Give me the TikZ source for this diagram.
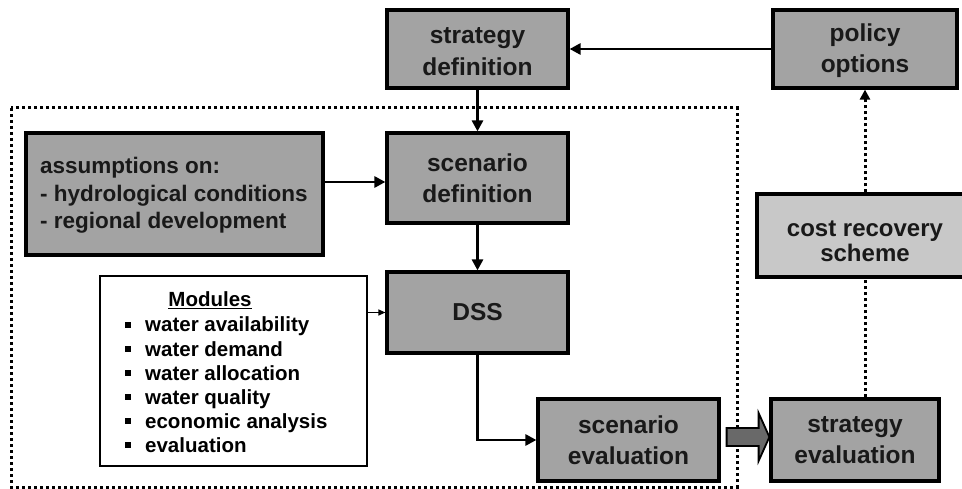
\documentclass[tikz,border=0pt]{standalone}
\usepackage{fontspec}
\setmainfont{Liberation Sans}
\usetikzlibrary{arrows.meta,calc}
\definecolor{boxgray}{RGB}{163,163,163}
\definecolor{lightbox}{RGB}{200,200,200}
\definecolor{arrowgray}{RGB}{105,105,105}
\definecolor{txt}{RGB}{25,25,25}
\begin{document}
\begin{tikzpicture}[x=1pt,y=-1pt,
  box/.style={draw=black, line width=3.2pt, fill=boxgray, text=txt,
    font=\bfseries\fontsize{24.5}{31.5}\selectfont, align=center, inner sep=0pt},
  conn/.style={line width=2.8pt, -{Triangle[length=11pt,width=11pt]}},
  dotconn/.style={line width=3pt, dash pattern=on 3pt off 3pt},
  modtext/.style={anchor=base west, text=black, font=\bfseries\fontsize{20.5}{24}\selectfont, inner sep=0pt},
  bulletsq/.style={fill=black, inner sep=0pt, minimum size=6pt}
]
\useasboundingbox (0,0) rectangle (962,489);
\begin{scope}
\clip (0,0) rectangle (962,489);
% dotted frame
\draw[dotconn] (11,108) rectangle (737,487);

% nodes
\node[box, minimum width=181, minimum height=78] (sd) at (477.5,49) {\rule{0pt}{21pt}strategy\\definition};
\node[box, minimum width=184, minimum height=78] (po) at (865,49) {\rule{0pt}{21pt}policy\\options};
\node[box, minimum width=181, minimum height=90] (sc) at (477.5,178) {scenario\\definition};
\node[box, minimum width=297, minimum height=122] (as) at (174.5,194) {};
\node[anchor=north west, align=left, text=txt, inner sep=0pt,
      font=\bfseries\fontsize{22.5}{27.5}\selectfont] (ast) at (40,157)
      {assumptions on:\\- hydrological conditions\\- regional development};
\node[box, minimum width=181, minimum height=81] (dss) at (477.5,312.5) {DSS};
\node[draw=black, line width=1.6pt, fill=white, minimum width=267, minimum height=190, inner sep=0pt] (mod) at (233.5,371) {};
\node[box, minimum width=181, minimum height=82] (se) at (628.5,440) {scenario\\evaluation};
\node[box, minimum width=168, minimum height=82] (ste) at (855,440) {strategy\\evaluation};
\node[box, fill=lightbox, minimum width=216, minimum height=83,
      font=\bfseries\fontsize{24}{25.5}\selectfont] (cr) at (865,235.5) {\rule{0pt}{27.5pt}cost recovery\\scheme};

% modules content
\node[anchor=base, text=black, font=\bfseries\fontsize{20.5}{24}\selectfont, inner sep=0pt] (mh) at (210,307) {\underline{Modules}};
\node[bulletsq] (b1) at (128,325) {};
\node[modtext] (m1) at (145,332) {water availability};
\node[bulletsq] (b2) at (128,349) {};
\node[modtext] (m2) at (145,356) {water demand};
\node[bulletsq] (b3) at (128,373) {};
\node[modtext] (m3) at (145,380) {water allocation};
\node[bulletsq] (b4) at (128,397) {};
\node[modtext] (m4) at (145,404) {water quality};
\node[bulletsq] (b5) at (128,421) {};
\node[modtext] (m5) at (145,428) {economic analysis};
\node[bulletsq] (b6) at (128,445) {};
\node[modtext] (m6) at (145,452) {evaluation};

% connectors
\draw[conn] (po.west) -- (sd.east);
\draw[conn] (sd.south) -- (sc.north);
\coordinate (asout) at ($(as.east)+(0,-12)$);
\draw[conn] (asout) -- (asout -| sc.west);
\draw[conn] (sc.south) -- (dss.north);
\draw[line width=1.2pt, -{Triangle[length=7pt,width=6pt]}] (mod.east |- dss.west) -- (dss.west);
\draw[conn] (dss.south) |- (se.west);

% fat arrow
\draw[line width=1.8pt, fill=arrowgray, line join=miter]
  ($(se.east)+(6,-12)$) -- ($(se.east)+(38,-12)$) -- ($(se.east)+(38,-27)$)
  -- (ste.west |- {$(se.east)+(0,-3)$}) -- ($(se.east)+(38,21)$) -- ($(se.east)+(38,6)$)
  -- ($(se.east)+(6,6)$) -- cycle;

% dotted connectors
\draw[dotconn] (ste.north -| cr.south) -- (cr.south);
\draw[dotconn, -{Triangle[length=10pt,width=10pt]}] (cr.north) -- (po.south);
\end{scope}
\end{tikzpicture}
\end{document}
